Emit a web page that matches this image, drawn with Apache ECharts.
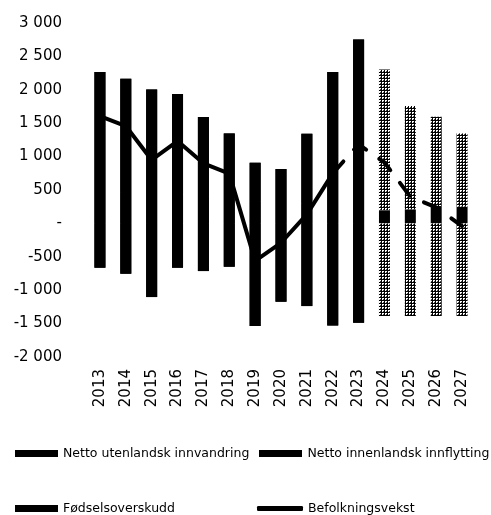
<!DOCTYPE html>
<html>
<head>
<meta charset="utf-8">
<script src="https://cdn.jsdelivr.net/npm/echarts@6/dist/echarts.min.js"></script>
<style>
  html, body { margin: 0; padding: 0; background: #fff; }
  #chart { width: 491px; height: 515px; }
</style>
</head>
<body>
<div id="chart"></div>
<script>
// år (2024-2027 er prognose)
var years = ['2013', '2014', '2015', '2016', '2017', '2018', '2019', '2020', '2021', '2022', '2023', '2024', '2025', '2026', '2027'];
var forecastFrom = '2024';

var utenlandsk = [1795, 1706, 1566, 1506, 1191, 967, 578, 493, 1042, 2005, 2524, 2110, 1546, 1337, 1097];
var innenlandsk = [-663, -753, -1103, -663, -714, -648, -1537, -1172, -1238, -1527, -1487, -1388, -1388, -1388, -1388];
var fodsel = [470, 460, 440, 430, 400, 380, 330, 320, 300, 260, 230, 195, 210, 260, 250];
var vekst = [1606, 1457, 950, 1232, 900, 745, -560, -290, 135, 748, 1182, 913, 400, 240, -40];

var yTicks = [-2000, 3000, 500]; // min, max, interval

var font = 'DejaVu Sans';
var fIdx = years.indexOf(forecastFrom);

// prikkete mønster for prognoseårene
function makePattern() {
    var c = document.createElement('canvas');
    c.width = 3; c.height = 3;
    var ctx = c.getContext('2d');
    ctx.fillStyle = '#fff';
    ctx.fillRect(0, 0, 3, 3);
    ctx.fillStyle = '#000';
    ctx.fillRect(0, 0, 3, 1);
    ctx.fillRect(0, 0, 1, 3);
    ctx.fillStyle = '#444';
    ctx.fillRect(2, 2, 1, 1);
    return c;
}
var pattern = { image: makePattern(), repeat: 'repeat' };

function withForecast(arr) {
    return arr.map(function (v, i) {
        return i >= fIdx ? { value: v, itemStyle: { color: pattern } } : v;
    });
}

// linje: heltrukken til og med 2022, stiplet etter
var vekstSolid = vekst.map(function (v, i) { return i <= fIdx - 2 ? v : '-'; });
var vekstDash = vekst.map(function (v, i) { return i >= fIdx - 2 ? v : '-'; });

// svart bakgrunn bak de historiske søylene (fyller skjøtene mellom segmentene)
var bgData = years.slice(0, fIdx).map(function (y, i) {
    return [i, innenlandsk[i], fodsel[i] + utenlandsk[i]];
});

function fmt(v) {
    if (v === 0) return '-';
    var s = Math.abs(v).toString().replace(/\B(?=(\d{3})+(?!\d))/g, ' ');
    return (v < 0 ? '-' : '') + s;
}

var chart = echarts.init(document.getElementById('chart'));
var legendText = { color: '#000', fontFamily: font, fontSize: 12.5 };
var barStyle = { color: '#000', borderWidth: 0 };
var boxIcon = 'path://M0,0H43V7H0Z';
chart.setOption({
    animation: false,
    textStyle: { fontFamily: font },
    grid: { left: 87, right: 16, top: 23, bottom: 158 },
    legend: [
        { data: ['Netto utenlandsk innvandring'], left: 15, top: 447, padding: 0, itemWidth: 43, itemHeight: 7, icon: boxIcon, textStyle: legendText, selectedMode: false },
        { data: ['Netto innenlandsk innflytting'], left: 259, top: 447, padding: 0, itemWidth: 44, itemHeight: 7, icon: boxIcon, textStyle: legendText, selectedMode: false },
        { data: ['Fødselsoverskudd'], left: 15, top: 502, padding: 0, itemWidth: 43, itemHeight: 7, icon: boxIcon, textStyle: legendText, selectedMode: false },
        { data: ['Befolkningsvekst'], left: 257, top: 502, padding: 0, itemWidth: 46, itemHeight: 5, icon: 'roundRect', textStyle: legendText, selectedMode: false }
    ],
    xAxis: {
        type: 'category',
        data: years,
        axisLine: { show: false },
        axisTick: { show: false },
        axisLabel: { rotate: 90, margin: 12, color: '#000', fontSize: 15, fontFamily: font, interval: 0 }
    },
    yAxis: {
        type: 'value',
        min: yTicks[0],
        max: yTicks[1],
        interval: yTicks[2],
        splitLine: { show: false },
        axisLine: { show: false },
        axisTick: { show: false },
        axisLabel: { margin: 25, color: '#000', fontSize: 15, fontFamily: font, formatter: fmt }
    },
    series: [
        {
            type: 'custom', z: 1, silent: true, data: bgData,
            renderItem: function (params, api) {
                var top = api.coord([api.value(0), api.value(2)]);
                var bot = api.coord([api.value(0), api.value(1)]);
                var w = 11;
                return { type: 'rect', shape: { x: top[0] - w / 2, y: top[1], width: w, height: bot[1] - top[1] }, style: { fill: '#000' } };
            }
        },
        { name: 'Fødselsoverskudd', type: 'bar', z: 2, stack: 'sum', barWidth: 11, itemStyle: barStyle, data: fodsel },
        { name: 'Netto utenlandsk innvandring', type: 'bar', z: 2, stack: 'sum', barWidth: 11, itemStyle: barStyle, data: withForecast(utenlandsk) },
        { name: 'Netto innenlandsk innflytting', type: 'bar', z: 2, stack: 'sum', barWidth: 11, itemStyle: barStyle, data: withForecast(innenlandsk) },
        { name: 'Befolkningsvekst', type: 'line', symbol: 'none', z: 5, itemStyle: { color: '#000' },
          lineStyle: { color: '#000', width: 4, cap: 'round', join: 'round' }, data: vekstSolid },
        { name: 'Befolkningsvekst', type: 'line', symbol: 'none', z: 5, itemStyle: { color: '#000' },
          lineStyle: { color: '#000', width: 4, type: [16, 16], cap: 'round', join: 'round' }, data: vekstDash }
    ]
});
</script>
</body>
</html>
